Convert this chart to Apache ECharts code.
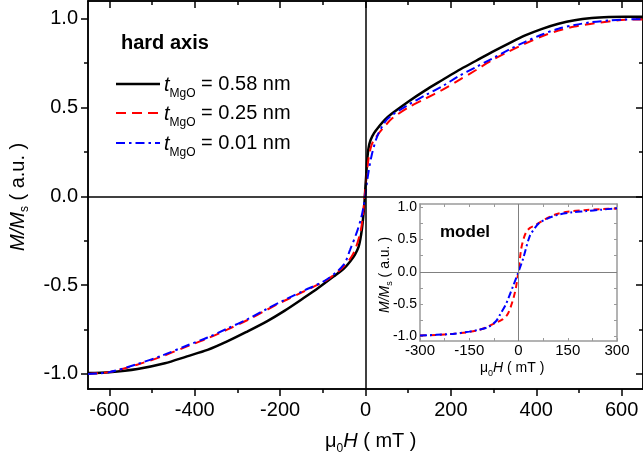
<!DOCTYPE html>
<html>
<head>
<meta charset="utf-8">
<script src="https://cdn.jsdelivr.net/npm/echarts@6/dist/echarts.min.js"></script>
<style>
  html, body { margin: 0; padding: 0; background: #fff; }
  #chart { width: 643px; height: 461px; }
</style>
</head>
<body>
<div id="chart"></div>
<script>
// Hard-axis magnetization loops, M/Ms vs. applied field (mT)
const fieldBlack = [-650,-600,-534,-470,-418,-370,-324,-280,-231,-190,-145,-110,-75,-50,-36,-25,-16,-12,-8.6,-5.5,-3.2,-1.5,0,2,4,7,11.7,20,31,45,62,100,140,180,218,258,296,335,374,412,452,490,530,570,608,650];
const mBlack = [-0.995,-0.99,-0.972,-0.94,-0.901,-0.865,-0.817,-0.765,-0.704,-0.645,-0.573,-0.515,-0.452,-0.405,-0.367,-0.33,-0.283,-0.24,-0.189,-0.12,-0.058,0.0,0.06,0.13,0.204,0.27,0.316,0.356,0.391,0.43,0.466,0.533,0.597,0.655,0.71,0.762,0.812,0.86,0.906,0.942,0.972,0.992,1.004,1.01,1.012,1.012];

const fieldRed = [-650,-600,-535,-475,-418,-370,-324,-275,-231,-190,-145,-90,-51,-28,-12.6,-7,-4.2,-2,0,3,7.7,13,19.5,31,45,62,100,140,180,218,258,296,335,374,412,452,490,530,570,608,650];
const mRed = [-1.0,-0.99,-0.948,-0.9,-0.845,-0.8,-0.751,-0.695,-0.639,-0.588,-0.536,-0.47,-0.395,-0.32,-0.208,-0.13,-0.06,0.0,0.05,0.13,0.222,0.28,0.316,0.354,0.395,0.438,0.5,0.55,0.6,0.653,0.71,0.766,0.815,0.86,0.9,0.934,0.956,0.972,0.985,0.994,0.996];

const fieldBlue = [-650,-600,-535,-475,-418,-370,-324,-275,-231,-190,-145,-90,-51,-36,-20,-10,-4,0,4,13.6,27,46,62,100,140,180,218,258,296,335,374,412,452,490,530,570,608,650];
const mBlue = [-1.0,-0.99,-0.945,-0.895,-0.84,-0.795,-0.745,-0.69,-0.634,-0.584,-0.532,-0.467,-0.385,-0.3,-0.2,-0.12,-0.05,0.01,0.09,0.222,0.335,0.42,0.457,0.515,0.569,0.62,0.676,0.727,0.775,0.825,0.87,0.91,0.944,0.965,0.981,0.99,0.996,0.998];

// Model curves (inset)
const fieldModelRed = [-300,-250,-200,-150,-120,-90,-70,-50,-35,-25,-15,-8,-4,0,8,16,24,35,50,70,90,120,150,200,250,300];
const mModelRed = [-0.985,-0.975,-0.96,-0.93,-0.9,-0.84,-0.79,-0.74,-0.67,-0.56,-0.4,-0.25,-0.12,0,0.35,0.52,0.62,0.68,0.72,0.78,0.84,0.9,0.93,0.955,0.97,0.98];
const fieldModelBlue = [-300,-250,-200,-150,-120,-90,-68,-55,-40,-30,-15,0,15,34,50,64,95,125,160,206,250,300];
const mModelBlue = [-0.985,-0.975,-0.96,-0.925,-0.895,-0.85,-0.76,-0.65,-0.52,-0.4,-0.2,0,0.22,0.55,0.68,0.76,0.84,0.89,0.92,0.94,0.96,0.985];

// Tick positions
const xMajorTicks = [-600,-400,-200,0,200,400,600];
const xMinorTicks = [-500,-300,-100,100,300,500];
const yMajorTicks = [-1.0,-0.5,0.0,0.5,1.0];
const yMinorTicks = [-0.75,-0.25,0.25,0.75];
const insetXLabels = [-300,-150,0,150,300];
const insetXTicks = [-300,-225,-150,-75,0,75,150,225,300];
const insetYLabels = [-1.0,-0.5,0.0,0.5,1.0];
const insetYTicks = [-1.0,-0.75,-0.5,-0.25,0,0.25,0.5,0.75,1.0];

const legendNames = ['0.58 nm','0.25 nm','0.01 nm'];

const FONT = '"Liberation Sans", Arial, sans-serif';
const zip = (a, b) => a.map((v, i) => [v, b[i]]);

const chart = echarts.init(document.getElementById('chart'), null, { renderer: 'canvas' });

// measure text for composing sub-scripted labels
const mctx = document.createElement('canvas').getContext('2d');
function tw(t, size, style, weight) {
  mctx.font = `${style || 'normal'} ${weight || 'normal'} ${size}px ${FONT}`;
  return mctx.measureText(t).width;
}
// pieces laid out along a line; rotated = reads bottom to top
function composeText(x0, y0, pieces, rotated) {
  const out = [];
  let off = 0;
  pieces.forEach(p => {
    const dy = p.dy || 0;
    const el = {
      type: 'text',
      silent: true,
      z: 100,
      style: {
        text: p.t,
        fontSize: p.size,
        fontFamily: FONT,
        fontStyle: p.style || 'normal',
        fontWeight: p.weight || 'normal',
        fill: '#000',
        align: 'left',
        verticalAlign: 'middle'
      }
    };
    if (rotated) {
      el.x = x0 + dy; el.y = y0 - off; el.rotation = Math.PI / 2;
    } else {
      el.x = x0 + off; el.y = y0 + dy;
    }
    out.push(el);
    off += tw(p.t, p.size, p.style, p.weight);
  });
  return out;
}

const graphics = [];
graphics.push({ type: 'text', x: 121, y: 43, silent: true, z: 100,
  style: { text: 'hard axis', fontSize: 20, fontWeight: 'bold', fontFamily: FONT, fill: '#000', align: 'left', verticalAlign: 'middle' } });

const legendRows = [84, 113, 143];
const legendStyles = [
  { stroke: '#000', lineWidth: 2.5, lineDash: null },
  { stroke: '#ff0000', lineWidth: 2, lineDash: [10, 6] },
  { stroke: '#0000ff', lineWidth: 2, lineDash: [9, 4, 2.5, 4] }
];
legendRows.forEach((y, i) => {
  graphics.push({ type: 'line', silent: true, z: 100,
    shape: { x1: 116, y1: y, x2: 160, y2: y },
    style: Object.assign({}, legendStyles[i]) });
  composeText(164, y, [
    { t: 't', size: 20, style: 'italic', dy: 1 },
    { t: 'MgO', size: 12, dy: 10 },
    { t: ' = ' + legendNames[i], size: 20 }
  ]).forEach(e => graphics.push(e));
});

// main axis titles
composeText(325, 441, [
  { t: 'μ', size: 20 },
  { t: '0', size: 12, dy: 8 },
  { t: 'H', size: 20, style: 'italic' },
  { t: ' ( mT )', size: 20 }
]).forEach(e => graphics.push(e));
composeText(18, 251, [
  { t: 'M/M', size: 20, style: 'italic' },
  { t: 's', size: 12, dy: 7 },
  { t: ' ( a.u. )', size: 20 }
], true).forEach(e => graphics.push(e));

// inset titles
graphics.push({ type: 'text', x: 440, y: 232, silent: true, z: 100,
  style: { text: 'model', fontSize: 17, fontWeight: 'bold', fontFamily: FONT, fill: '#000', align: 'left', verticalAlign: 'middle' } });
composeText(480, 368, [
  { t: 'μ', size: 14 },
  { t: '0', size: 9, dy: 6 },
  { t: 'H', size: 14, style: 'italic' },
  { t: ' ( mT )', size: 14 }
]).forEach(e => graphics.push(e));
composeText(385, 313, [
  { t: 'M/M', size: 14, style: 'italic' },
  { t: 's', size: 9, dy: 5 },
  { t: ' ( a.u. )', size: 14 }
], true).forEach(e => graphics.push(e));

const black = '#000';
const insetGray = '#9a9a9a';

function mainX(position, ticks, len, inside, labels) {
  return {
    type: 'value', gridIndex: 0, position, min: -650, max: 650,
    axisLine: { show: true, onZero: false, lineStyle: { color: black, width: 1.5 } },
    axisTick: { show: true, inside, length: len, customValues: ticks, lineStyle: { color: black, width: 1.5 } },
    axisLabel: labels ? { show: true, customValues: ticks, fontSize: 20, fontFamily: FONT, color: black, margin: 11 } : { show: false },
    splitLine: { show: false }
  };
}
function mainY(position, ticks, len, inside, labels) {
  return {
    type: 'value', gridIndex: 0, position, min: -1.085, max: 1.1,
    axisLine: { show: true, onZero: false, lineStyle: { color: black, width: 1.5 } },
    axisTick: { show: true, inside, length: len, customValues: ticks, lineStyle: { color: black, width: 1.5 } },
    axisLabel: labels ? { show: true, customValues: ticks, fontSize: 20, fontFamily: FONT, color: black, margin: 10,
      formatter: v => v.toFixed(1) } : { show: false },
    splitLine: { show: false }
  };
}
function insetX(position, labels) {
  return {
    type: 'value', gridIndex: 1, position, min: -300, max: 300,
    axisLine: { show: true, onZero: false, lineStyle: { color: insetGray, width: 1.5 } },
    axisTick: { show: true, inside: true, length: 3, customValues: insetXTicks, lineStyle: { color: insetGray, width: 1 } },
    axisLabel: labels ? { show: true, customValues: insetXLabels, fontSize: 15, fontFamily: FONT, color: black, margin: 2 } : { show: false },
    splitLine: { show: false }
  };
}
function insetY(position, labels) {
  return {
    type: 'value', gridIndex: 1, position, min: -1.07, max: 1.05,
    axisLine: { show: true, onZero: false, lineStyle: { color: insetGray, width: 1.5 } },
    axisTick: { show: true, inside: true, length: 3, customValues: insetYTicks, lineStyle: { color: insetGray, width: 1 } },
    axisLabel: labels ? { show: true, customValues: insetYLabels, fontSize: 14, fontFamily: FONT, color: black, margin: 3,
      formatter: v => v.toFixed(1) } : { show: false },
    splitLine: { show: false }
  };
}

const option = {
  animation: false,
  backgroundColor: '#fff',
  grid: [
    { left: 88, top: 1, width: 557, height: 388 },
    { left: 420, top: 204, width: 197, height: 137 }
  ],
  xAxis: [
    mainX('bottom', xMajorTicks, 7, false, true),
    mainX('bottom', xMinorTicks, 4, false, false),
    mainX('top', xMajorTicks, 7, true, false),
    mainX('top', xMinorTicks, 4, true, false),
    insetX('bottom', true),
    insetX('top', false)
  ],
  yAxis: [
    mainY('left', yMajorTicks, 7, false, true),
    mainY('left', yMinorTicks, 4, false, false),
    mainY('right', yMajorTicks, 7, true, false),
    mainY('right', yMinorTicks, 4, true, false),
    insetY('left', true),
    insetY('right', false)
  ],
  graphic: graphics,
  series: [
    {
      type: 'line', xAxisIndex: 0, yAxisIndex: 0, data: zip(fieldBlack, mBlack),
      showSymbol: false, smooth: 0.3, z: 2,
      lineStyle: { color: black, width: 2.5 },
      markLine: {
        silent: true, symbol: 'none', label: { show: false },
        lineStyle: { color: black, width: 1.5, type: 'solid' },
        data: [{ xAxis: 0 }, { yAxis: 0 }]
      }
    },
    {
      type: 'line', xAxisIndex: 0, yAxisIndex: 0, data: zip(fieldRed, mRed),
      showSymbol: false, smooth: 0.3, z: 3,
      lineStyle: { color: '#ff0000', width: 2, type: [10, 6] }
    },
    {
      type: 'line', xAxisIndex: 0, yAxisIndex: 0, data: zip(fieldBlue, mBlue),
      showSymbol: false, smooth: 0.3, z: 4,
      lineStyle: { color: '#0000ff', width: 2, type: [9, 4, 2.5, 4] }
    },
    {
      type: 'line', xAxisIndex: 4, yAxisIndex: 4, data: zip(fieldModelRed, mModelRed),
      showSymbol: false, smooth: 0.3, z: 3,
      lineStyle: { color: '#ff0000', width: 2, type: [6, 4] },
      markLine: {
        silent: true, symbol: 'none', label: { show: false },
        lineStyle: { color: '#808080', width: 1, type: 'solid' },
        data: [{ xAxis: 0 }, { yAxis: 0 }]
      }
    },
    {
      type: 'line', xAxisIndex: 4, yAxisIndex: 4, data: zip(fieldModelBlue, mModelBlue),
      showSymbol: false, smooth: 0.3, z: 4,
      lineStyle: { color: '#0000ff', width: 2, type: [7, 3, 2, 3] }
    }
  ]
};
chart.setOption(option);
</script>
</body>
</html>
